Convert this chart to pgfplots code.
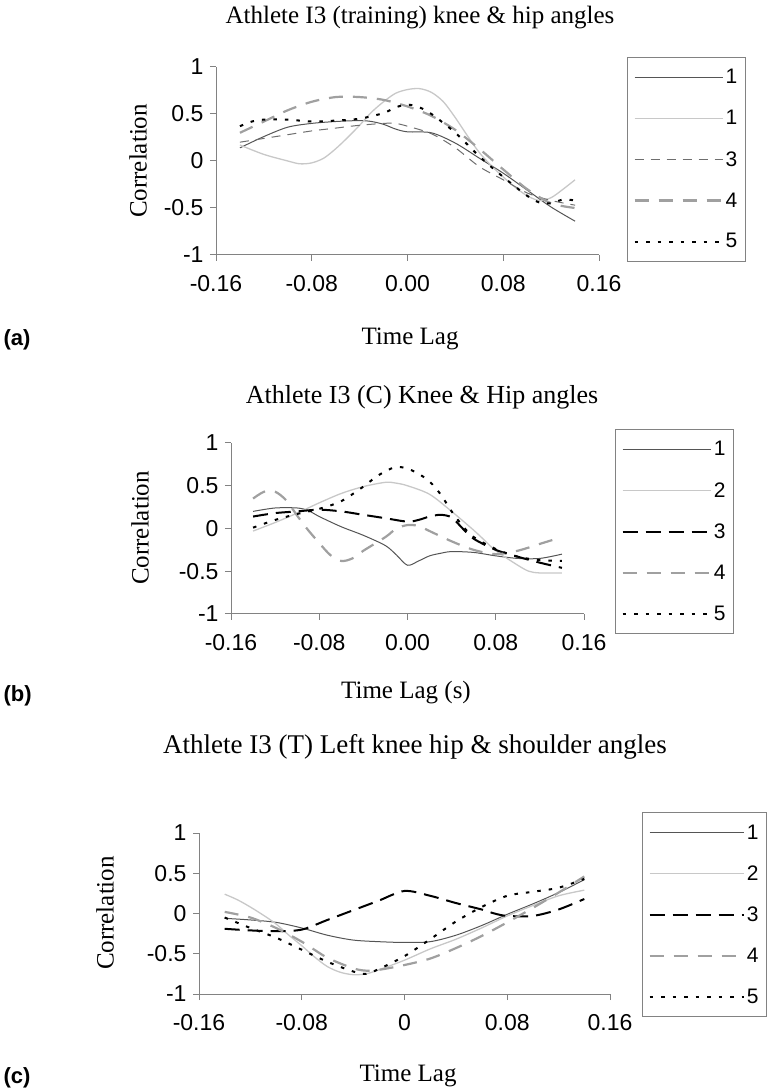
\documentclass[border=0pt]{standalone}
\usepackage{fontspec}
\setmainfont{Liberation Serif}
\newfontfamily\arial{Liberation Sans}
\usepackage{pgfplots}
\pgfplotsset{compat=1.18}

\definecolor{axgray}{RGB}{130,130,130}
\definecolor{sone}{RGB}{85,85,85}
\definecolor{stwo}{RGB}{200,200,200}
\definecolor{sthree}{RGB}{110,110,110}
\definecolor{sfour}{RGB}{160,160,160}

\newcommand{\lbl}{\fontsize{25}{25}\selectfont}

\pgfplotsset{
  corrpanel/.style={
    scale only axis,
    xmin=-0.16, xmax=0.16, ymin=-1, ymax=1,
    axis x line*=bottom, axis y line*=left,
    axis line style={axgray, line width=1pt, -},
    xtick={-0.16,-0.08,0,0.08,0.16},
    ytick={-1,-0.5,0,0.5,1},
    yticklabels={-1,-0.5,0,0.5,1},
    tick align=outside,
    major tick length=6pt,
    tick style={axgray, line width=1pt},
    ticklabel style={font=\arial\fontsize{23}{23}\selectfont},
    xticklabel style={yshift=-11pt},
    yticklabel style={xshift=-3pt},
    no markers,
    clip=false,
    legend cell align=left,
    legend image code/.code={\draw[##1] (0pt,0pt) -- (88pt,0pt);},
    legend style={draw=axgray, line width=1pt, anchor=north west,
      font=\arial\fontsize{21}{21}\selectfont,
      row sep=21pt, inner xsep=6pt, inner ysep=10pt},
  },
  s1/.style={sone, line width=1pt, smooth, solid},
  s2/.style={stwo, line width=1.3pt, smooth, solid},
  s3a/.style={sthree, line width=1pt, smooth, dash pattern=on 9pt off 7pt},
  s3/.style={black, line width=2pt, smooth, dash pattern=on 15pt off 8pt},
  s4/.style={sfour, line width=2.2pt, smooth, dash pattern=on 14pt off 10pt},
  s5/.style={black, line width=2pt, smooth, dash pattern=on 3.5pt off 8pt},
}

\begin{document}
\begin{tikzpicture}
\useasboundingbox (0pt,0pt) rectangle (767pt,1088pt);

% (a)
\begin{axis}[corrpanel, at={(216pt,833pt)}, anchor=south west, width=383pt, height=188pt,
  xticklabels={-0.16,-0.08,0.00,0.08,0.16},
  legend style={at={(axis description cs:1.073,1.053)}}]
\addplot[s1] coordinates {(-0.14,0.14) (-0.12,0.26) (-0.10,0.36) (-0.08,0.40) (-0.06,0.42) (-0.04,0.43) (-0.03,0.42) (-0.02,0.39) (-0.01,0.34) (0,0.31) (0.02,0.30) (0.04,0.19) (0.06,0.03) (0.08,-0.13) (0.10,-0.31) (0.12,-0.49) (0.14,-0.64)};
\addplot[s2] coordinates {(-0.14,0.17) (-0.12,0.07) (-0.10,0.0) (-0.09,-0.03) (-0.08,-0.02) (-0.07,0.03) (-0.06,0.13) (-0.05,0.25) (-0.04,0.38) (-0.03,0.52) (-0.02,0.63) (-0.01,0.72) (0,0.76) (0.01,0.77) (0.02,0.73) (0.03,0.63) (0.04,0.46) (0.05,0.27) (0.06,0.09) (0.07,-0.05) (0.08,-0.17) (0.09,-0.28) (0.10,-0.37) (0.11,-0.42) (0.12,-0.39) (0.13,-0.30) (0.14,-0.20)};
\addplot[s3a] coordinates {(-0.14,0.20) (-0.12,0.24) (-0.10,0.28) (-0.08,0.32) (-0.06,0.35) (-0.04,0.38) (-0.02,0.40) (-0.01,0.40) (0,0.37) (0.02,0.29) (0.04,0.14) (0.06,-0.06) (0.08,-0.20) (0.10,-0.34) (0.12,-0.42) (0.14,-0.47)};
\addplot[s4] coordinates {(-0.14,0.30) (-0.12,0.42) (-0.10,0.54) (-0.08,0.63) (-0.06,0.68) (-0.04,0.68) (-0.02,0.65) (0,0.58) (0.02,0.48) (0.04,0.33) (0.06,0.13) (0.08,-0.09) (0.10,-0.30) (0.12,-0.45) (0.14,-0.50)};
\addplot[s5] coordinates {(-0.14,0.37) (-0.13,0.42) (-0.12,0.44) (-0.10,0.44) (-0.08,0.42) (-0.06,0.43) (-0.04,0.45) (-0.02,0.51) (-0.01,0.57) (0,0.60) (0.01,0.57) (0.02,0.50) (0.04,0.30) (0.06,0.05) (0.08,-0.17) (0.10,-0.37) (0.11,-0.44) (0.12,-0.45) (0.13,-0.41) (0.14,-0.42)};
\legend{1,1,3,4,5}
\end{axis}
\node[font=\lbl] at (420pt,1070pt) {Athlete I3 (training) knee \& hip angles};
\node[rotate=90, font=\lbl] at (138pt,927pt) {Correlation};
\node[font=\lbl] at (410pt,749pt) {Time Lag};
\node[anchor=west, font=\arial\bfseries\fontsize{22}{22}\selectfont] at (0pt,748pt) {(a)};

% (b)
\begin{axis}[corrpanel, at={(231pt,474pt)}, anchor=south west, width=353pt, height=171pt,
  xticklabels={-0.16,-0.08,0.00,0.08,0.16},
  legend style={at={(axis description cs:1.088,1.082)}}]
\addplot[s1] coordinates {(-0.14,0.20) (-0.12,0.24) (-0.10,0.24) (-0.09,0.21) (-0.08,0.14) (-0.06,0.02) (-0.04,-0.08) (-0.02,-0.20) (-0.01,-0.31) (0,-0.43) (0.01,-0.38) (0.02,-0.32) (0.03,-0.29) (0.04,-0.27) (0.06,-0.28) (0.08,-0.32) (0.10,-0.35) (0.12,-0.35) (0.14,-0.30)};
\addplot[s2] coordinates {(-0.14,-0.03) (-0.12,0.07) (-0.10,0.18) (-0.08,0.30) (-0.06,0.41) (-0.04,0.49) (-0.02,0.54) (-0.01,0.53) (0,0.50) (0.02,0.40) (0.04,0.20) (0.06,-0.02) (0.07,-0.14) (0.08,-0.26) (0.10,-0.43) (0.11,-0.50) (0.12,-0.52) (0.14,-0.52)};
\addplot[s3] coordinates {(-0.14,0.14) (-0.12,0.18) (-0.10,0.20) (-0.08,0.22) (-0.06,0.20) (-0.04,0.16) (-0.02,0.12) (0,0.08) (0.01,0.10) (0.02,0.14) (0.03,0.16) (0.04,0.13) (0.05,0.0) (0.06,-0.12) (0.08,-0.25) (0.10,-0.33) (0.12,-0.40) (0.14,-0.46)};
\addplot[s4] coordinates {(-0.14,0.35) (-0.13,0.43) (-0.12,0.43) (-0.11,0.33) (-0.10,0.15) (-0.09,-0.02) (-0.08,-0.17) (-0.07,-0.31) (-0.06,-0.38) (-0.05,-0.35) (-0.04,-0.26) (-0.02,-0.10) (-0.01,0.0) (0,0.04) (0.01,0.03) (0.02,-0.03) (0.04,-0.15) (0.06,-0.25) (0.08,-0.30) (0.10,-0.26) (0.12,-0.18) (0.135,-0.12)};
\addplot[s5] coordinates {(-0.14,0.01) (-0.12,0.10) (-0.10,0.17) (-0.08,0.23) (-0.06,0.32) (-0.04,0.49) (-0.03,0.59) (-0.02,0.67) (-0.01,0.72) (0,0.70) (0.01,0.64) (0.02,0.55) (0.03,0.40) (0.04,0.20) (0.05,0.03) (0.06,-0.10) (0.08,-0.24) (0.10,-0.33) (0.12,-0.37) (0.14,-0.38)};
\legend{1,2,3,4,5}
\end{axis}
\node[font=\fontsize{26}{26}\selectfont] at (422pt,691pt) {Athlete I3 (C) Knee \& Hip angles};
\node[rotate=90, font=\lbl] at (140pt,560pt) {Correlation};
\node[font=\lbl] at (406pt,395pt) {Time Lag (s)};
\node[anchor=west, font=\arial\bfseries\fontsize{22}{22}\selectfont] at (0pt,392pt) {(b)};

% (c)
\begin{axis}[corrpanel, at={(199pt,94pt)}, anchor=south west, width=411pt, height=161pt,
  xticklabels={-0.16,-0.08,0,0.08,0.16},
  legend image code/.code={\draw[#1] (0pt,0pt) -- (94pt,0pt);},
  legend style={at={(axis description cs:1.078,1.130)}}]
\addplot[s1] coordinates {(-0.14,-0.06) (-0.12,-0.08) (-0.10,-0.11) (-0.08,-0.18) (-0.06,-0.27) (-0.04,-0.33) (-0.02,-0.35) (0,-0.36) (0.02,-0.35) (0.04,-0.27) (0.06,-0.15) (0.08,-0.01) (0.10,0.12) (0.12,0.26) (0.14,0.42)};
\addplot[s2] coordinates {(-0.14,0.24) (-0.13,0.17) (-0.12,0.08) (-0.11,-0.02) (-0.10,-0.13) (-0.09,-0.27) (-0.08,-0.40) (-0.07,-0.54) (-0.06,-0.66) (-0.05,-0.73) (-0.04,-0.76) (-0.03,-0.75) (-0.02,-0.70) (0,-0.58) (0.02,-0.44) (0.04,-0.32) (0.06,-0.18) (0.08,-0.03) (0.10,0.10) (0.12,0.22) (0.14,0.29)};
\addplot[s3] coordinates {(-0.14,-0.19) (-0.12,-0.21) (-0.10,-0.22) (-0.08,-0.20) (-0.06,-0.08) (-0.04,0.04) (-0.02,0.16) (0,0.28) (0.02,0.22) (0.04,0.13) (0.06,0.05) (0.07,0.0) (0.08,-0.03) (0.10,-0.03) (0.12,0.05) (0.14,0.18)};
\addplot[s4] coordinates {(-0.14,0.02) (-0.12,-0.05) (-0.10,-0.18) (-0.08,-0.35) (-0.06,-0.55) (-0.04,-0.68) (-0.03,-0.71) (-0.02,-0.70) (0,-0.64) (0.02,-0.56) (0.04,-0.43) (0.06,-0.28) (0.08,-0.11) (0.10,0.07) (0.12,0.26) (0.14,0.46)};
\addplot[s5] coordinates {(-0.14,-0.05) (-0.12,-0.18) (-0.10,-0.30) (-0.08,-0.45) (-0.06,-0.60) (-0.04,-0.72) (-0.03,-0.75) (-0.02,-0.69) (0,-0.53) (0.02,-0.32) (0.04,-0.10) (0.06,0.08) (0.08,0.22) (0.10,0.27) (0.12,0.32) (0.14,0.43)};
\legend{1,2,3,4,5}
\end{axis}
\node[font=\fontsize{27}{27}\selectfont] at (415pt,341pt) {Athlete I3 (T) Left knee hip \& shoulder angles};
\node[rotate=90, font=\lbl] at (105pt,175pt) {Correlation};
\node[font=\lbl] at (408pt,12pt) {Time Lag};
\node[anchor=west, font=\arial\bfseries\fontsize{22}{22}\selectfont] at (0pt,10pt) {(c)};
\end{tikzpicture}
\end{document}
